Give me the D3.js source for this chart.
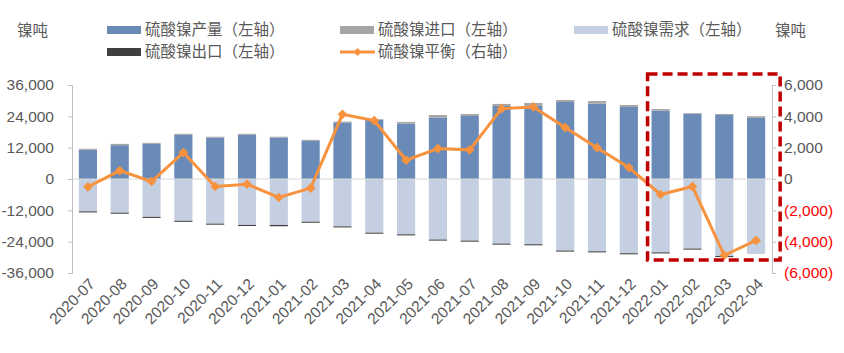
<!DOCTYPE html>
<html>
<head>
<meta charset="utf-8">
<script src="https://cdn.jsdelivr.net/npm/d3@7"></script>
<style>
  body { margin: 0; background: #fff; }
  text { font-family: "Liberation Sans", Arial, sans-serif; }
  .cjk { font-family: "Noto Sans CJK SC", sans-serif; }
</style>
</head>
<body>
<div id="chart"></div>
<script>
// monthly nickel sulphate balance, tonnes of nickel
const months = ["2020-07","2020-08","2020-09","2020-10","2020-11","2020-12",
  "2021-01","2021-02","2021-03","2021-04","2021-05","2021-06","2021-07","2021-08",
  "2021-09","2021-10","2021-11","2021-12","2022-01","2022-02","2022-03","2022-04"]
const production = [11200,12950,13450,16900,15900,16900,15900,14600,21600,22700,21200,
  23500,24150,28000,28000,29500,28850,27600,26150,25000,24500,23400]
const imports = [400,500,400,400,300,400,300,400,400,250,650,1000,750,750,1100,750,
  1000,750,650,250,400,650]
const demand = [12400,12900,14500,16000,17100,17600,17600,16350,18150,20550,21200,
  23200,23600,24750,25000,27400,27700,28450,28100,26650,29500,28700]
const exportsArr = [400,400,400,400,400,400,500,400,400,400,400,400,400,400,400,400,
  400,400,400,400,400,0]
const balance = [-500,540,-160,1690,-480,-330,-1180,-580,4130,3730,1200,1940,1860,
  4490,4600,3280,2000,730,-990,-480,-4870,-3920]
const leftTicks = [-36000,-24000,-12000,0,12000,24000,36000]
const rightTicks = [-6000,-4000,-2000,0,2000,4000,6000]

const width = 844, height = 353
const plot = {left: 72, right: 772, top: 85, bottom: 273}

const svg = d3.select("#chart").append("svg")
  .attr("width", width)
  .attr("height", height)

var x = d3.scaleBand()
  .domain(months)
  .range([plot.left, plot.right])
  .paddingInner(0.43)
  .paddingOuter(0.215)

var y = d3.scaleLinear().domain([-36000, 36000]).range([plot.bottom, plot.top])
var y2 = d3.scaleLinear().domain([-6000, 6000]).range([plot.bottom, plot.top])

const rows = months.map(function(m, i) {
  return {m: m, prod: production[i], imp: imports[i], dem: demand[i], exp: exportsArr[i], bal: balance[i]}
})

// bars: production + import stacked up, demand + export stacked down
const bars = svg.append("g")
function addBars(color, y0, y1) {
  bars.selectAll(null)
    .data(rows)
    .enter()
    .append("rect")
    .attr("x", function(d) { return x(d.m) })
    .attr("width", x.bandwidth())
    .attr("y", function(d) { return Math.min(y(y0(d)), y(y1(d))) })
    .attr("height", function(d) { return Math.abs(y(y0(d)) - y(y1(d))) })
    .attr("fill", color)
}
addBars("#6a8bb8", function(d) { return 0 }, function(d) { return d.prod })
addBars("#a5a5a5", function(d) { return d.prod }, function(d) { return d.prod + d.imp })
addBars("#c4cfe1", function(d) { return 0 }, function(d) { return -d.dem })
addBars("#3f3f3f", function(d) { return -d.dem }, function(d) { return -d.dem - d.exp })

// zero line
svg.append("line")
  .attr("x1", plot.left).attr("x2", plot.right)
  .attr("y1", y(0)).attr("y2", y(0))
  .attr("stroke", "#d9d9d9").attr("stroke-width", 1)

// left axis
const axL = svg.append("g")
  .attr("transform", "translate(" + plot.left + ",0)")
  .call(d3.axisLeft(y).tickValues(leftTicks).tickSize(4).tickPadding(14)
    .tickFormat(d3.format(",")))
axL.select(".domain").attr("stroke", "#bfbfbf")
axL.selectAll(".tick line").attr("stroke", "#bfbfbf")
axL.selectAll("text").attr("fill", "#595959").style("font-size", "15.5px")
  .text(function(d) { return d < 0 ? "-" + d3.format(",")(-d) : d3.format(",")(d) })

// right axis
const axR = svg.append("g")
  .attr("transform", "translate(" + plot.right + ",0)")
  .call(d3.axisRight(y2).tickValues(rightTicks).tickSize(4).tickPadding(8)
    .tickFormat(function(d) { return d < 0 ? "(" + d3.format(",")(-d) + ")" : d3.format(",")(d) }))
axR.select(".domain").attr("stroke", "#bfbfbf")
axR.selectAll(".tick line").attr("stroke", "#bfbfbf")
axR.selectAll("text")
  .attr("fill", function(d) { return d < 0 ? "#ff0000" : "#595959" })
  .style("font-size", "15.5px")

// x labels
svg.append("g")
  .selectAll("text")
  .data(months)
  .enter()
  .append("text")
  .attr("transform", function(d) {
    return "translate(" + (x(d) + x.bandwidth() / 2 + 8) + "," + (plot.bottom + 12) + ")rotate(-45)"
  })
  .style("text-anchor", "end")
  .style("font-size", "15.5px")
  .attr("fill", "#595959")
  .text(function(d) { return d })

// balance line on right axis
const cx = function(d) { return x(d.m) + x.bandwidth() / 2 }
svg.append("path")
  .datum(rows)
  .attr("fill", "none")
  .attr("stroke", "#f7923f")
  .attr("stroke-width", 3)
  .attr("d", d3.line().x(cx).y(function(d) { return y2(d.bal) }))

svg.append("g")
  .selectAll("path")
  .data(rows)
  .enter()
  .append("path")
  .attr("transform", function(d) { return "translate(" + cx(d) + "," + y2(d.bal) + ")" })
  .attr("d", d3.symbol().type(d3.symbolDiamond2).size(60))
  .attr("fill", "#f7923f")

// red dashed highlight box around 2022
const x0 = x("2022-01") - 4, x1 = x("2022-04") + x.bandwidth() + 15
svg.append("rect")
  .attr("x", x0).attr("y", 74)
  .attr("width", x1 - x0).attr("height", 186)
  .attr("fill", "none")
  .attr("stroke", "#c00000")
  .attr("stroke-width", 3.5)
  .attr("stroke-dasharray", "10,5")

// unit labels
svg.append("text").attr("class", "cjk").attr("x", 17).attr("y", 36)
  .style("font-size", "15.5px").attr("fill", "#595959").text("镍吨")
svg.append("text").attr("class", "cjk").attr("x", 775).attr("y", 36)
  .style("font-size", "15.5px").attr("fill", "#595959").text("镍吨")

// legend
const legend = [
  {name: "硫酸镍产量（左轴）", color: "#6a8bb8", x: 107, y: 30, type: "rect"},
  {name: "硫酸镍进口（左轴）", color: "#a5a5a5", x: 340, y: 30, type: "rect"},
  {name: "硫酸镍需求（左轴）", color: "#c4cfe1", x: 574, y: 30, type: "rect"},
  {name: "硫酸镍出口（左轴）", color: "#3f3f3f", x: 107, y: 52, type: "rect"},
  {name: "硫酸镍平衡（右轴）", color: "#f7923f", x: 340, y: 52, type: "line"}
]
const lg = svg.append("g").selectAll("g").data(legend).enter().append("g")
  .attr("transform", function(d) { return "translate(" + d.x + "," + d.y + ")" })
lg.filter(function(d) { return d.type == "rect" }).append("rect")
  .attr("x", 0).attr("y", -4).attr("width", 34).attr("height", 8)
  .attr("fill", function(d) { return d.color })
lg.filter(function(d) { return d.type == "line" }).append("line")
  .attr("x1", 0).attr("x2", 35).attr("y1", 0).attr("y2", 0)
  .attr("stroke", function(d) { return d.color }).attr("stroke-width", 3)
lg.filter(function(d) { return d.type == "line" }).append("path")
  .attr("transform", "translate(17.5,0)")
  .attr("d", d3.symbol().type(d3.symbolDiamond2).size(40))
  .attr("fill", function(d) { return d.color })
lg.append("text").attr("class", "cjk")
  .attr("x", 38).attr("y", 0).attr("dy", "0.35em")
  .style("font-size", "15.5px").attr("fill", "#595959")
  .text(function(d) { return d.name })
</script>
</body>
</html>
